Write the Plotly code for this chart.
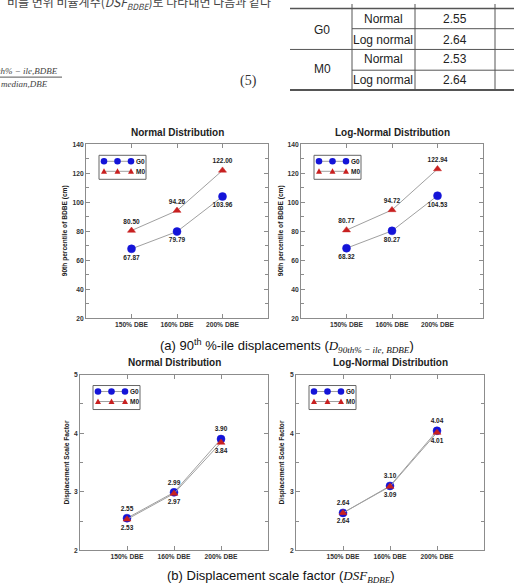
import plotly.graph_objects as go

# ---------------- data ----------------
categories = ["150% DBE", "160% DBE", "200% DBE"]

p90_normal_G0 = [67.87, 79.79, 103.96]
p90_normal_M0 = [80.50, 94.26, 122.00]
p90_lognormal_G0 = [68.32, 80.27, 104.53]
p90_lognormal_M0 = [80.77, 94.72, 122.94]

dsf_normal_G0 = [2.55, 2.99, 3.90]
dsf_normal_M0 = [2.53, 2.97, 3.84]
dsf_lognormal_G0 = [2.64, 3.10, 4.04]
dsf_lognormal_M0 = [2.64, 3.09, 4.01]

panel_titles = ["Normal Distribution", "Log-Normal Distribution",
                "Normal Distribution", "Log-Normal Distribution"]
series_names = ["G0", "M0"]

table_models = ["G0", "M0"]
table_dists = ["Normal", "Log normal"]
table_values = [[2.55, 2.64], [2.53, 2.64]]

# ---------------- layout helpers ----------------
W, H = 514, 587
def fx(p): return p / W
def fy(p): return 1 - p / H

SANS = "Liberation Sans, Arial, sans-serif"
SERIF = "Liberation Serif, Times New Roman, serif"
BLUE = "#1414d8"
RED = "#c82020"
LINE = "#a0a0a0"
AX = "#8c8c8c"

# panel pixel boxes: (x0, x1, y0, y1)
boxes = [(86, 268, 142, 318), (301, 483, 142, 318),
         (80, 268, 375, 553), (296, 484, 375, 553)]

panels = [
    (p90_normal_G0, p90_normal_M0, "bottom center", "top center"),
    (p90_lognormal_G0, p90_lognormal_M0, "bottom center", "top center"),
    (dsf_normal_G0, dsf_normal_M0, "top center", "bottom center"),
    (dsf_lognormal_G0, dsf_lognormal_M0, "top center", "bottom center"),
]

fig = go.Figure()
shapes = []
annotations = []

for i, (g0, m0, pos_g, pos_m) in enumerate(panels):
    s = "" if i == 0 else str(i + 1)
    xa, ya = "x" + s, "y" + s
    for vals, name, sym, col, size, tpos in [
        (g0, series_names[0], "circle", BLUE, 8, pos_g),
        (m0, series_names[1], "triangle-up", RED, 7, pos_m),
    ]:
        fig.add_trace(go.Scatter(
            x=categories, y=vals, name=name, xaxis=xa, yaxis=ya,
            mode="lines+markers+text",
            line=dict(color=LINE, width=1),
            marker=dict(symbol=sym, size=size, color=col,
                        line=dict(width=0.5, color=col)),
            text=[f"{v:.2f}" for v in vals], textposition=tpos,
            textfont=dict(family=SANS, size=6.5, color="#222", weight="bold"),
            showlegend=False, cliponaxis=False))

    x0, x1, y0, y1 = boxes[i]
    top_row = i < 2
    xkey = "xaxis" + s
    ykey = "yaxis" + s
    fig.layout[xkey] = dict(
        domain=[fx(x0), fx(x1)], anchor=ya, type="category", range=[-1, 3],
        showline=True, linecolor=AX, linewidth=1, mirror="allticks",
        ticks="inside", ticklen=4, tickcolor=AX, showgrid=False, zeroline=False,
        tickfont=dict(family=SANS, size=6.7, color="#333", weight="bold"))
    if top_row:
        yr, dt, mdt = [20, 140], 20, 10
    else:
        yr, dt, mdt = [2, 5], 1, 0.5
    fig.layout[ykey] = dict(
        domain=[fy(y1), fy(y0)], anchor=xa, range=yr, dtick=dt, tick0=yr[0],
        showline=True, linecolor=AX, linewidth=1, mirror="allticks",
        ticks="inside", ticklen=4, tickcolor=AX, showgrid=False, zeroline=False,
        minor=dict(ticks="inside", ticklen=3, dtick=mdt, tickcolor=AX, showgrid=False),
        tickfont=dict(family=SANS, size=6.7, color="#333", weight="bold"))

    xd, yd = xa + " domain", ya + " domain"
    # panel title
    annotations.append(dict(text=panel_titles[i], xref=xd, yref=yd, x=0.5, y=1,
                            yanchor="middle", yshift=12, showarrow=False,
                            font=dict(family=SANS, size=10, color="#222", weight="bold")))
    # y axis title
    ytitle = "90th percentile of BDBE (cm)" if top_row else "Displacement Scale Factor"
    off = [-21, -20, -13, -14][i]
    annotations.append(dict(text=ytitle, xref=xd, yref=yd, x=0, y=0.5, xshift=off,
                            textangle=-90, showarrow=False, xanchor="center",
                            font=dict(family=SANS, size=6.6, color="#222", weight="bold")))
    # custom legend box (line with three markers, as in the original)
    common = dict(xref=xd, yref=yd, xsizemode="pixel", ysizemode="pixel",
                  xanchor=0, yanchor=1, layer="above")
    shapes.append(dict(type="rect", x0=13, x1=60, y0=-11, y1=-35,
                       line=dict(color="#666", width=1), fillcolor="white", **common))
    for row_y, name, col, sym in [(-17, series_names[0], BLUE, "c"),
                                  (-27, series_names[1], RED, "t")]:
        shapes.append(dict(type="line", x0=18, x1=45, y0=row_y, y1=row_y,
                           line=dict(color=LINE, width=1), **common))
        for cx in (18, 31.5, 45):
            if sym == "c":
                shapes.append(dict(type="circle", x0=cx - 3.3, x1=cx + 3.3,
                                   y0=row_y - 3.3, y1=row_y + 3.3,
                                   fillcolor=col, line=dict(width=0), **common))
            else:
                shapes.append(dict(type="path",
                                   path=f"M {cx-3},{row_y-2.5} L {cx+3},{row_y-2.5} L {cx},{row_y+3} Z",
                                   fillcolor=col, line=dict(width=0), **common))
        annotations.append(dict(text=name, xref=xd, yref=yd, x=0, y=1,
                                xshift=48, yshift=row_y, xanchor="left", yanchor="middle",
                                showarrow=False,
                                font=dict(family=SANS, size=6.5, color="#222", weight="bold")))

# ---------------- captions ----------------
annotations.append(dict(
    text="(a) 90<sup>th</sup> %-ile displacements (<span style='font-family:Liberation Serif'><i>D</i><sub><i>90th% − ile, BDBE</i></sub></span>)",
    xref="paper", yref="paper", x=fx(158), y=fy(346), xanchor="left", yanchor="middle",
    showarrow=False, font=dict(family=SANS, size=13, color="#111")))
annotations.append(dict(
    text="(b) Displacement scale factor (<span style='font-family:Liberation Serif'><i>DSF</i><sub><i>BDBE</i></sub></span>)",
    xref="paper", yref="paper", x=fx(165), y=fy(579), xanchor="left", yanchor="middle",
    showarrow=False, font=dict(family=SANS, size=13, color="#111")))

# ---------------- page fragments above the figure ----------------
annotations.append(dict(
    text="비를 변위 비율계수(<i>DSF</i><sub><i>BDBE</i></sub>)로 나타내면 다음과 같다",
    xref="paper", yref="paper", x=fx(5), y=fy(-2), xanchor="left", yanchor="middle",
    showarrow=False, font=dict(family="Noto Sans CJK KR", size=12, color="#444")))
annotations.append(dict(text="<i>90th% − ile,BDBE</i>", xref="paper", yref="paper",
                        x=fx(60), y=fy(68), xanchor="right", yanchor="middle", showarrow=False,
                        font=dict(family=SERIF, size=9, color="#444")))
shapes.append(dict(type="line", xref="paper", yref="paper", x0=0, x1=fx(62),
                   y0=fy(74), y1=fy(74), line=dict(color="#555", width=1)))
annotations.append(dict(text="<i>median,DBE</i>", xref="paper", yref="paper",
                        x=fx(50), y=fy(81), xanchor="right", yanchor="middle", showarrow=False,
                        font=dict(family=SERIF, size=9, color="#444")))
annotations.append(dict(text="(5)", xref="paper", yref="paper",
                        x=fx(248), y=fy(78), xanchor="center", yanchor="middle", showarrow=False,
                        font=dict(family=SERIF, size=14, color="#333")))

# table fragment
TL = "#555"
def hline(y, xa, xb, w):
    shapes.append(dict(type="line", xref="paper", yref="paper", x0=fx(xa), x1=fx(xb),
                       y0=fy(y), y1=fy(y), line=dict(color=TL, width=w)))
def vline(x, ya, yb, w=1):
    shapes.append(dict(type="line", xref="paper", yref="paper", x0=fx(x), x1=fx(x),
                       y0=fy(ya), y1=fy(yb), line=dict(color=TL, width=w)))
hline(4.5, 290, 514, 1.6)
hline(25, 352, 514, 1)
hline(46, 290, 514, 1)
hline(67, 352, 514, 1)
hline(87, 290, 514, 2)
for xv in (352, 415, 495):
    vline(xv, 0, 87)

row_ys = [[15, 36], [56, 77]]
model_ys = [26, 66]
for mi, model in enumerate(table_models):
    annotations.append(dict(text=model, xref="paper", yref="paper", x=fx(322), y=fy(model_ys[mi]),
                            xanchor="center", yanchor="middle", showarrow=False,
                            font=dict(family=SANS, size=12, color="#222")))
    for di, dist in enumerate(table_dists):
        yy = row_ys[mi][di]
        annotations.append(dict(text=dist, xref="paper", yref="paper", x=fx(383), y=fy(yy),
                                xanchor="center", yanchor="middle", showarrow=False,
                                font=dict(family=SANS, size=12, color="#222")))
        annotations.append(dict(text=f"{table_values[mi][di]:.2f}", xref="paper", yref="paper",
                                x=fx(455), y=fy(yy), xanchor="center", yanchor="middle",
                                showarrow=False, font=dict(family=SANS, size=12, color="#222")))

fig.update_layout(width=W, height=H, margin=dict(l=0, r=0, t=0, b=0),
                  paper_bgcolor="white", plot_bgcolor="white",
                  shapes=shapes, annotations=annotations, showlegend=False)

fig.write_html("out.html")
